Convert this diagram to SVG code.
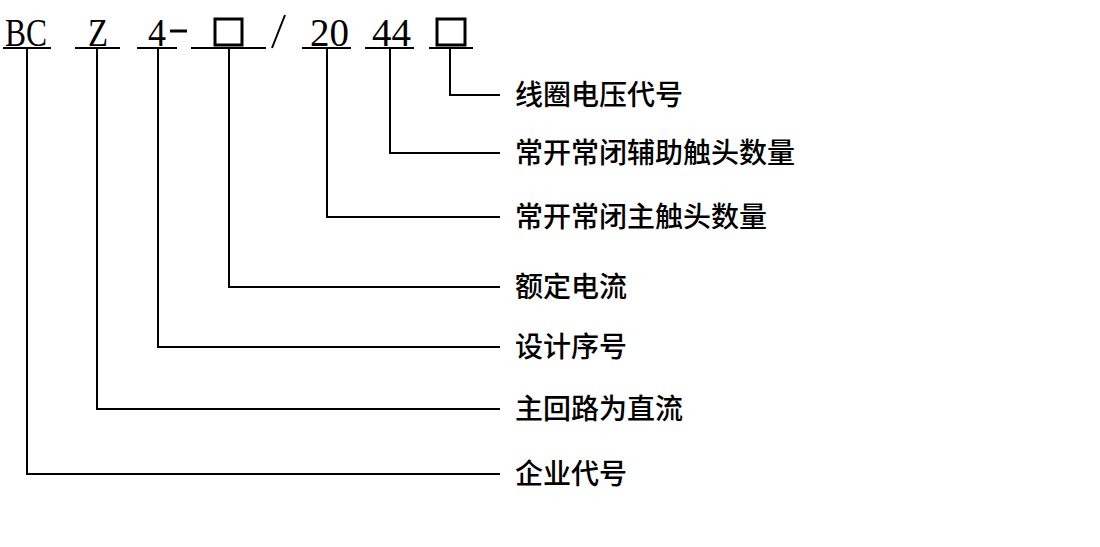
<svg xmlns="http://www.w3.org/2000/svg" width="1100" height="547" viewBox="0 0 1100 547">
<style>
.c{font-family:"Liberation Serif",serif;font-size:40px;fill:#000}
.l{font-family:"Noto Sans CJK SC",sans-serif;font-size:28px;font-weight:500;fill:#000}
line,polyline{stroke:#000;stroke-width:2;fill:none}
</style>
<rect width="1100" height="547" fill="#fff"/>
<g id="code">
<text class="c" x="5" y="46" textLength="42" lengthAdjust="spacingAndGlyphs">BC</text>
<text class="c" x="88" y="46" textLength="20" lengthAdjust="spacingAndGlyphs">Z</text>
<text class="c" x="148" y="46" textLength="18" lengthAdjust="spacingAndGlyphs">4</text>
<line x1="170" y1="31" x2="187" y2="31" style="stroke-width:3"/>
<rect x="215" y="19" width="27" height="26" fill="none" stroke="#000" stroke-width="3"/>
<line x1="272" y1="48" x2="285" y2="15"/>
<text class="c" x="310" y="46" textLength="39" lengthAdjust="spacingAndGlyphs">20</text>
<text class="c" x="372" y="46" textLength="39" lengthAdjust="spacingAndGlyphs">44</text>
<rect x="437" y="19" width="28" height="26" fill="none" stroke="#000" stroke-width="3"/>
<line x1="3" y1="48" x2="51" y2="48"/>
<line x1="75" y1="48" x2="120" y2="48"/>
<line x1="137" y1="48" x2="177" y2="48"/>
<line x1="191" y1="48" x2="266" y2="48"/>
<line x1="302" y1="48" x2="351" y2="48"/>
<line x1="365" y1="48" x2="414" y2="48"/>
<line x1="429" y1="48" x2="473" y2="48"/>
</g>
<g id="connectors">
<polyline points="450,48 450,95 500,95"/>
<polyline points="390,48 390,153 500,153"/>
<polyline points="327,48 327,217 500,217"/>
<polyline points="229,48 229,287 500,287"/>
<polyline points="158,48 158,347 500,347"/>
<polyline points="97,48 97,409 500,409"/>
<polyline points="27,48 27,474 500,474"/>
</g>
<g id="labels">
<text class="l" x="515" y="105">线圈电压代号</text>
<text class="l" x="515" y="163">常开常闭辅助触头数量</text>
<text class="l" x="515" y="227">常开常闭主触头数量</text>
<text class="l" x="515" y="297">额定电流</text>
<text class="l" x="515" y="357">设计序号</text>
<text class="l" x="515" y="419">主回路为直流</text>
<text class="l" x="515" y="484">企业代号</text>
</g>
</svg>
